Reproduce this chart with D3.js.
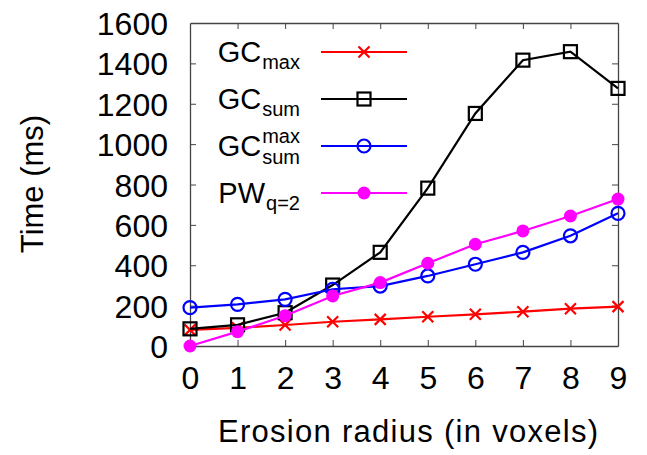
<!DOCTYPE html>
<html><head><meta charset="utf-8">
<script src="https://cdn.jsdelivr.net/npm/d3@7"></script>
<style>body{margin:0;background:#fff}svg{display:block}text{font-family:"Liberation Sans",Arial,sans-serif;fill:#000}</style>
</head><body><svg id="c" width="647" height="455"></svg>
<script>
const radii = [0,1,2,3,4,5,6,7,8,9];
const gcMax = [80,90,104,120,132,145,157,170,185,195];
const gcSum = [85,105,165,302,464,782,1152,1416,1458,1276];
const gcSumMax = [190,206,231,281,297,347,405,464,546,657];
const pwQ2 = [0,71,150,248,314,410,504,570,644,728];
const yTicks = [0,200,400,600,800,1000,1200,1400,1600];

const svg = d3.select("#c");
const L=190,R=618,T=23,B=346;
const x = d3.scaleLinear().domain([0,9]).range([L,R]);
const y = d3.scaleLinear().domain([0,1600]).range([B,T]);

const series = [
  {main:"GC", sub:"max", sup:null, color:"#ff0000", marker:"x", data:gcMax},
  {main:"GC", sub:"sum", sup:null, color:"#000000", marker:"square", data:gcSum},
  {main:"GC", sub:"sum", sup:"max", color:"#0000ff", marker:"circle", data:gcSumMax},
  {main:"PW", sub:"q=2", sup:null, color:"#ff00ff", marker:"dot", data:pwQ2}
];

// axes
const axisCol="#444";
const gl = svg.append("g").attr("transform",`translate(${L},0)`).call(d3.axisLeft(y).tickValues(yTicks).tickFormat(d3.format("d")).tickSizeInner(-6).tickSizeOuter(0).tickPadding(22));
const gr = svg.append("g").attr("transform",`translate(${R},0)`).call(d3.axisRight(y).tickValues(yTicks).tickSizeInner(-6).tickSizeOuter(0).tickFormat(""));
const gb = svg.append("g").attr("transform",`translate(0,${B})`).call(d3.axisBottom(x).tickValues(radii).tickFormat(d3.format("d")).tickSizeInner(-6).tickSizeOuter(0).tickPadding(20));
const gt = svg.append("g").attr("transform",`translate(0,${T})`).call(d3.axisTop(x).tickValues(radii).tickSizeInner(-6).tickSizeOuter(0).tickFormat(""));
[gl,gr,gb,gt].forEach(g=>{g.select(".domain").attr("stroke",axisCol).attr("stroke-width",1.3);g.selectAll(".tick line").attr("stroke",axisCol).attr("stroke-width",1);});
gl.selectAll(".tick text").attr("font-size",32).attr("font-family","Liberation Sans, Arial, sans-serif").attr("dy","0.36em");
gb.selectAll(".tick text").attr("font-size",32).attr("font-family","Liberation Sans, Arial, sans-serif").attr("dy","0.71em");
gl.selectAll(".tick").filter(d=>d===0||d===1600).select("line").remove();
gb.selectAll(".tick").filter(d=>d===0||d===9).select("line").remove();
gt.selectAll(".tick").filter(d=>d===0||d===9).select("line").remove();
gr.selectAll(".tick").filter(d=>d===0||d===1600).select("line").remove();

// titles
svg.append("text").attr("x",218).attr("y",442).attr("font-size",31)
  .attr("textLength",380).attr("lengthAdjust","spacing").text("Erosion radius (in voxels)");
svg.append("text").attr("transform","translate(43,184) rotate(-90)").attr("text-anchor","middle").attr("font-size",31).text("Time (ms)");

function drawMarker(g, cx, cy, s){
  if(s.marker==="x"){
    const r=5.5;
    g.append("path").attr("d",`M${cx-r},${cy-r}L${cx+r},${cy+r}M${cx-r},${cy+r}L${cx+r},${cy-r}`).attr("stroke",s.color).attr("stroke-width",2.2).attr("fill","none");
  } else if(s.marker==="square"){
    const h=6.5;
    g.append("rect").attr("x",cx-h).attr("y",cy-h).attr("width",2*h).attr("height",2*h).attr("fill","none").attr("stroke",s.color).attr("stroke-width",2.2);
  } else if(s.marker==="circle"){
    g.append("circle").attr("cx",cx).attr("cy",cy).attr("r",6.5).attr("fill","none").attr("stroke",s.color).attr("stroke-width",2.2);
  } else {
    g.append("circle").attr("cx",cx).attr("cy",cy).attr("r",6.5).attr("fill",s.color);
  }
}

const line = d3.line().x((d,i)=>x(radii[i])).y(d=>y(d));
series.forEach(s=>{
  const g = svg.append("g");
  g.append("path").attr("d",line(s.data)).attr("fill","none").attr("stroke",s.color).attr("stroke-width",2.2);
  s.data.forEach((v,i)=>drawMarker(g,x(radii[i]),y(v),s));
});

// legend
const legY=[52,99,146,193];
series.forEach((s,i)=>{
  const g = svg.append("g");
  const yy = legY[i];
  g.append("line").attr("x1",321).attr("x2",407).attr("y1",yy).attr("y2",yy).attr("stroke",s.color).attr("stroke-width",2.2);
  drawMarker(g,364,yy,s);
  const t = g.append("text").attr("x",300).attr("y",yy+10).attr("text-anchor","end").attr("font-size",29);
  t.append("tspan").text(s.main);
  let w;
  if(s.sup){
    const t2 = g.append("text").attr("x",300).attr("y",yy+18).attr("text-anchor","end").attr("font-size",20).text(s.sub);
    g.append("text").attr("x",300).attr("y",yy-3.5).attr("text-anchor","end").attr("font-size",20).text(s.sup);
    w = t2.node().getComputedTextLength();
  } else {
    const t2 = g.append("text").attr("x",300).attr("y",yy+16.5).attr("text-anchor","end").attr("font-size",20).text(s.sub);
    w = t2.node().getComputedTextLength();
  }
  t.attr("x",300-w-1);
});
</script></body></html>
